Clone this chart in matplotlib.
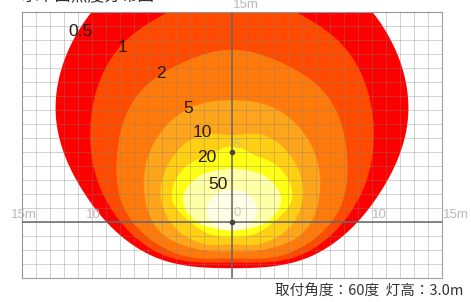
import numpy as np
import matplotlib.pyplot as plt

plt.rcParams['font.family'] = ['Liberation Sans', 'Noto Sans CJK JP', 'DejaVu Sans']

# fills, outermost first
levels = ['0.5', '1', '2', '5', '10', '20', '50', '100']
colors = ['#ff0000', '#ff4a00', '#ff7a0a', '#ffa51c', '#ffcf14', '#ffff14', '#ffffa8', '#fffde6']

# each contour: centre height (m) and radius (m) seen from that centre at
# 90, 60, 30, 0, -30, -60, -90 degrees (shape is mirrored left/right)
centre_y = [8.0, 7.0, 5.0, 2.5, 2.0, 1.8, 1.6, 0.85]
r_05 = [11.6, 11.8, 12.3, 12.6, 12.1, 11.9, 11.3]
r_1 = [9.4, 9.2, 9.8, 10.1, 10.5, 10.6, 9.9]
r_2 = [7.3, 7.3, 7.9, 8.2, 8.7, 8.3, 7.6]
r_5 = [6.2, 6.4, 6.4, 6.3, 6.1, 5.1, 4.6]
r_10 = [4.2, 4.8, 5.0, 5.1, 4.75, 4.1, 3.6]
r_20 = [3.6, 3.4, 4.0, 4.3, 3.5, 3.1, 2.9]
r_50 = [2.2, 2.4, 3.0, 3.5, 3.0, 2.4, 2.2]
r_100 = [1.45, 1.53, 1.7, 1.8, 1.7, 1.53, 1.45]
radii = [r_05, r_1, r_2, r_5, r_10, r_20, r_50, r_100]

# level label positions (m)
label_x = [-10.8, -7.8, -5.1, -3.1, -2.1, -1.8, -1.0]
label_y = [13.6, 12.5, 10.6, 8.1, 6.4, 4.6, 2.7]


def outline(yc, r, n=24):
    # full turn of radii, 30 degree steps from the top going clockwise
    rr = np.array(list(r) + list(r[5:0:-1]), float)
    N = len(rr)
    t = np.linspace(0, 1, n, endpoint=False)
    pieces = []
    for i in range(N):
        p0, p1, p2, p3 = rr[i - 1], rr[i], rr[(i + 1) % N], rr[(i + 2) % N]
        pieces.append(0.5 * (2 * p1 + (p2 - p0) * t
                             + (2 * p0 - 5 * p1 + 4 * p2 - p3) * t ** 2
                             + (3 * p1 - p0 - 3 * p2 + p3) * t ** 3))
    rad = np.concatenate(pieces)
    th = np.deg2rad(90 - 30 * np.arange(len(rad)) / n)
    return rad * np.cos(th), yc + rad * np.sin(th)


fig = plt.figure(figsize=(4.71, 3.02), dpi=100)
ax = fig.add_axes([22 / 471, 24 / 302, 420 / 471, 266 / 302])

for yc, r, c in zip(centre_y, radii, colors):
    x, y = outline(yc, r)
    ax.fill(x, y, color=c, lw=0, zorder=1)

ax.set_xlim(-15, 15)
ax.set_ylim(-4, 15)
ax.set_xticks(range(-15, 16))
ax.set_yticks(range(-4, 16))
ax.grid(True, color='#808080', lw=0.7, alpha=0.35, zorder=2)
ax.set_axisbelow(False)
ax.tick_params(length=0, labelbottom=False, labelleft=False)
for s in ax.spines.values():
    s.set_color('#a0a0a0')
    s.set_linewidth(0.8)

ax.axhline(0, color='#666666', lw=1.1, zorder=3)
ax.axvline(0, color='#666666', lw=1.1, zorder=3)
ax.plot([0, 0], [0, 5], 'o', ms=3, color='#444444', zorder=4)

for lab, x, y in zip(levels, label_x, label_y):
    ax.text(x, y, lab, fontsize=12.5, color='#2a1a10', ha='center', va='center', zorder=5)

axis_col = '#b8b8b8'
ax.text(-14.9, 0.5, '15m', fontsize=9.5, color=axis_col, ha='center', va='center', clip_on=False)
ax.text(-9.9, 0.5, '10', fontsize=9.5, color=axis_col, ha='center', va='center')
ax.text(10.5, 0.5, '10', fontsize=9.5, color=axis_col, ha='center', va='center')
ax.text(16.0, 0.5, '15m', fontsize=9.5, color=axis_col, ha='center', va='center', clip_on=False)
ax.text(0.35, 0.65, '0', fontsize=9.5, color=axis_col, ha='center', va='center', alpha=0.7)
ax.text(0.35, 5.5, '5', fontsize=9.5, color=axis_col, ha='center', va='center', alpha=0.7)
ax.text(1.0, 15.5, '15m', fontsize=9.5, color=axis_col, ha='center', va='center', clip_on=False)

# heading, mostly above the picture's top edge as in the source
fig.text(22 / 471, 1 - 4 / 302, '水平面照度分布図', fontsize=12, color='#333333',
         family=['Noto Sans CJK JP'], ha='left', va='bottom')
fig.text(369 / 471, 1 - 292 / 302, '取付角度：60度  灯高：3.0m', fontsize=10.5,
         color='#333333', family=['Noto Sans CJK JP', 'DejaVu Sans'], ha='center', va='center')

fig.savefig('out.png', dpi=100)
